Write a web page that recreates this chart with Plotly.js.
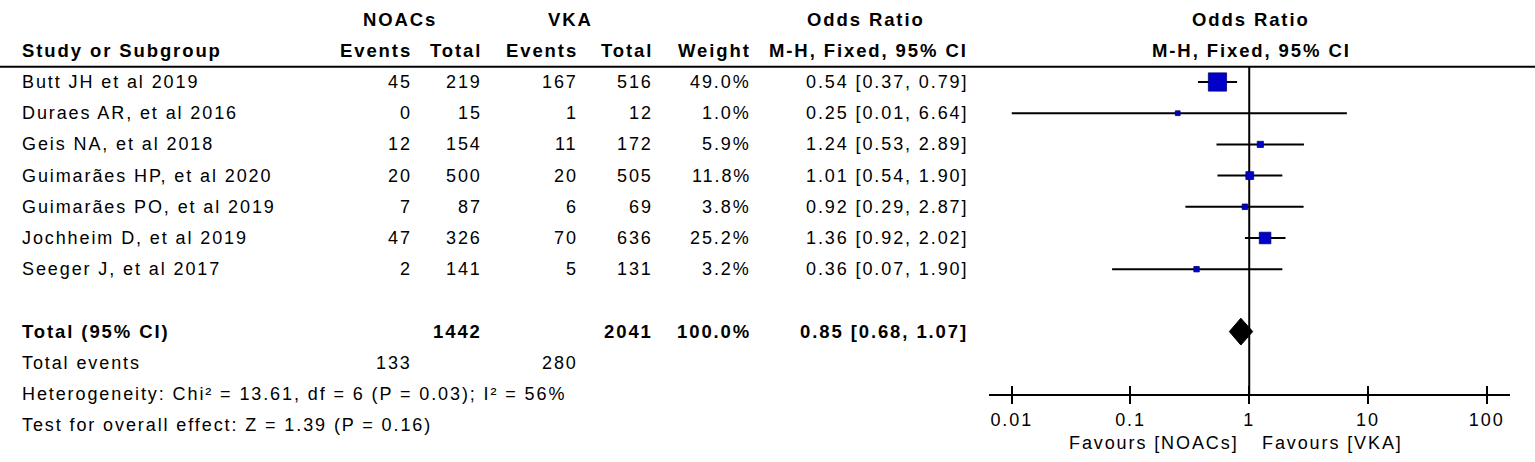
<!DOCTYPE html>
<html>
<head>
<meta charset="utf-8">
<script src="https://cdn.plot.ly/plotly-3.0.1.min.js"></script>
<style>
  html, body { margin: 0; padding: 0; background: #ffffff; }
  #chart { width: 1535px; height: 462px; }
  svg text { letter-spacing: 1.9px; }
</style>
</head>
<body>
<div id="chart"></div>
<script>
// ---------------- data ----------------
const studies = [
  "Butt JH et al 2019",
  "Duraes AR, et al 2016",
  "Geis NA, et al 2018",
  "Guimarães HP, et al 2020",
  "Guimarães PO, et al 2019",
  "Jochheim D, et al 2019",
  "Seeger J, et al 2017"
];
const noacEvents = [45, 0, 12, 20, 7, 47, 2];
const noacTotal  = [219, 15, 154, 500, 87, 326, 141];
const vkaEvents  = [167, 1, 11, 20, 6, 70, 5];
const vkaTotal   = [516, 12, 172, 505, 69, 636, 131];
const weights    = [49.0, 1.0, 5.9, 11.8, 3.8, 25.2, 3.2];
const orVal      = [0.54, 0.25, 1.24, 1.01, 0.92, 1.36, 0.36];
const orLo       = [0.37, 0.01, 0.53, 0.54, 0.29, 0.92, 0.07];
const orHi       = [0.79, 6.64, 2.89, 1.90, 2.87, 2.02, 1.90];

const totalNoac = 1442, totalVka = 2041, totalWeight = 100.0;
const totalOR = 0.85, totalLo = 0.68, totalHi = 1.07;
const eventsNoac = 133, eventsVka = 280;
const chi2 = 13.61, hetDf = 6, hetP = 0.03, i2 = 56;
const zVal = 1.39, zP = 0.16;

const tickVals   = [0.01, 0.1, 1, 10, 100];
const tickLabels = ["0.01", "0.1", "1", "10", "100"];

// ---------------- layout helpers ----------------
const W = 1535, H = 462;
const ROW0 = 82, ROWH = 31.2;           // pixel centre of first study row, row pitch
const AXIS_P = 394;                     // pixel of forest axis line
const px = x => x / W;
const py = p => 1 - p / H;
const rowP = i => ROW0 + ROWH * i;

const FONT = '"Liberation Sans", Arial, sans-serif';
const reg = {family: FONT, size: 18, color: '#000000'};
const bold = {family: FONT, size: 18.5, color: '#000000', weight: 'bold'};

const ann = [];
function txt(x, row, text, anchor, font) {
  ann.push({xref: 'paper', yref: 'paper', x: px(x), y: py(rowP(row)),
            xanchor: anchor, yanchor: 'middle', text: text, showarrow: false,
            font: font, align: anchor === 'right' ? 'right' : (anchor === 'left' ? 'left' : 'center')});
}
function txtP(x, p, text, anchor, font) {
  ann.push({xref: 'paper', yref: 'paper', x: px(x), y: py(p),
            xanchor: anchor, yanchor: 'middle', text: text, showarrow: false, font: font});
}

// column positions (right edges)
const C_NAME = 20, C_NE = 414, C_NT = 484, C_VE = 580, C_VT = 655, C_W = 753, C_OR = 970;

// headers
txt(400, -2, 'NOACs', 'center', bold);
txt(570, -2, 'VKA', 'center', bold);
txt(866, -2, 'Odds Ratio', 'center', bold);
txt(1251, -2, 'Odds Ratio', 'center', bold);
txt(C_NAME, -1, 'Study or Subgroup', 'left', bold);
txt(C_NE, -1, 'Events', 'right', bold);
txt(C_NT, -1, 'Total', 'right', bold);
txt(C_VE, -1, 'Events', 'right', bold);
txt(C_VT, -1, 'Total', 'right', bold);
txt(C_W, -1, 'Weight', 'right', bold);
txt(868, -1, 'M-H, Fixed, 95% CI', 'center', bold);
txt(1251, -1, 'M-H, Fixed, 95% CI', 'center', bold);

const fmtCI = (o, l, h) => o.toFixed(2) + ' [' + l.toFixed(2) + ', ' + h.toFixed(2) + ']';

studies.forEach((s, i) => {
  txt(C_NAME, i, s, 'left', reg);
  txt(C_NE, i, String(noacEvents[i]), 'right', reg);
  txt(C_NT, i, String(noacTotal[i]), 'right', reg);
  txt(C_VE, i, String(vkaEvents[i]), 'right', reg);
  txt(C_VT, i, String(vkaTotal[i]), 'right', reg);
  txt(C_W, i, weights[i].toFixed(1) + '%', 'right', reg);
  txt(C_OR, i, fmtCI(orVal[i], orLo[i], orHi[i]), 'right', reg);
});

const TR = 8;
txt(C_NAME, TR, 'Total (95% CI)', 'left', bold);
txt(C_NT, TR, String(totalNoac), 'right', bold);
txt(C_VT, TR, String(totalVka), 'right', bold);
txt(C_W, TR, totalWeight.toFixed(1) + '%', 'right', bold);
txt(C_OR, TR, fmtCI(totalOR, totalLo, totalHi), 'right', bold);
txt(C_NAME, 9, 'Total events', 'left', reg);
txt(C_NE, 9, String(eventsNoac), 'right', reg);
txt(C_VE, 9, String(eventsVka), 'right', reg);
txt(C_NAME, 10, 'Heterogeneity: Chi² = ' + chi2.toFixed(2) + ', df = ' + hetDf +
    ' (P = ' + hetP.toFixed(2) + '); I² = ' + i2 + '%', 'left', reg);
txt(C_NAME, 11, 'Test for overall effect: Z = ' + zVal.toFixed(2) + ' (P = ' + zP.toFixed(2) + ')', 'left', reg);

txtP(1241, 443, 'Favours [NOACs]', 'right', reg);
txtP(1260, 443, 'Favours [VKA]', 'left', reg);

// ---------------- traces ----------------
const rows = studies.map((s, i) => i);
const markerSize = weights.map(w => 4.5 + 0.28 * w);

const traces = [
  { // line of no effect
    x: [1, 1], y: [-0.49, 10], mode: 'lines', type: 'scatter',
    line: {color: '#000000', width: 2}, hoverinfo: 'skip', cliponaxis: false
  },
  { // study estimates with CIs
    x: orVal, y: rows, type: 'scatter', mode: 'markers',
    marker: {symbol: 'square', size: markerSize, color: '#0000c8', opacity: 1,
             line: {color: '#00007a', width: 0.8}},
    error_x: {type: 'data', symmetric: false,
              array: orHi.map((h, i) => h - orVal[i]),
              arrayminus: orLo.map((l, i) => orVal[i] - l),
              width: 0, thickness: 2, color: '#000000'},
    cliponaxis: false
  },
  { // pooled diamond
    x: [totalLo, totalOR, totalHi, totalOR, totalLo],
    y: [TR, TR - 0.43, TR, TR + 0.43, TR],
    type: 'scatter', mode: 'lines', fill: 'toself', fillcolor: '#000000',
    line: {color: '#000000', width: 1}, cliponaxis: false
  }
];

const axisCommon = {
  type: 'log', domain: [989.3 / W, 1510 / W], range: [-2.189, 2.196],
  tickvals: tickVals, ticktext: tickLabels, showgrid: false, zeroline: false,
  tickcolor: '#000000', tickwidth: 2, ticklen: 8, fixedrange: true
};

const layout = {
  width: W, height: H,
  margin: {l: 0, r: 0, t: 0, b: 0, pad: 0},
  paper_bgcolor: '#ffffff', plot_bgcolor: '#ffffff',
  showlegend: false,
  font: reg,
  xaxis: Object.assign({}, axisCommon, {
    anchor: 'y', ticks: 'outside', showline: true, linecolor: '#000000', linewidth: 2,
    tickfont: {family: FONT, size: 18, color: '#000000'}
  }),
  xaxis2: Object.assign({}, axisCommon, {
    anchor: 'y', overlaying: 'x', ticks: 'inside', showline: false, showticklabels: false
  }),
  yaxis: {
    domain: [1 - AXIS_P / H, 1], range: [(AXIS_P - ROW0) / ROWH, -ROW0 / ROWH],
    visible: false, showgrid: false, zeroline: false, fixedrange: true
  },
  shapes: [
    {type: 'line', xref: 'paper', yref: 'paper', x0: 0, x1: 1,
     y0: py(66.7), y1: py(66.7), line: {color: '#000000', width: 2}}
  ],
  annotations: ann
};

// invisible point on xaxis2 so its inward ticks are drawn
traces.push({x: [1], y: [20], xaxis: 'x2', yaxis: 'y', mode: 'markers',
             marker: {opacity: 0}, hoverinfo: 'skip', showlegend: false});

Plotly.newPlot('chart', traces, layout, {displayModeBar: false, staticPlot: true});
</script>
</body>
</html>
